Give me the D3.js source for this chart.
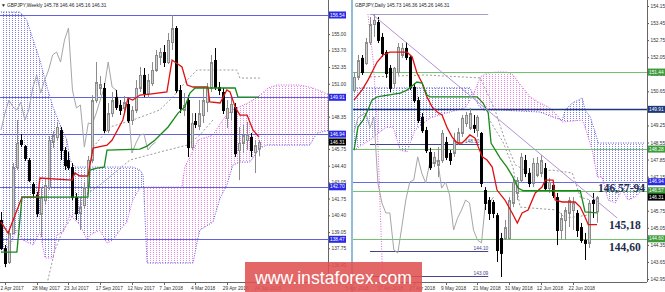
<!DOCTYPE html>
<html>
<head>
<meta charset="utf-8">
<script src="https://d3js.org/d3.v7.min.js"></script>
<style>
  body { margin: 0; background: #fff; }
  svg { display: block; font-family: "Liberation Sans", Arial, sans-serif; }
</style>
</head>
<body>
<svg id="chart" width="665" height="292"></svg>
<script>
// ---- weekly GBPJPY (left) : [open, high, low, close]
const weeklyBars = [
  [140.02,140.67,137.60,137.76],[137.76,138.01,136.23,136.56],[136.64,139.38,136.48,138.97],
  [138.97,144.61,138.89,144.29],[144.29,148.08,144.05,146.23],[146.47,146.95,145.90,146.15],
  [145.98,146.06,144.78,145.02],[144.86,145.02,143.08,143.24],[142.92,143.08,141.87,142.20],
  [142.04,142.28,140.26,140.59],[140.51,142.68,138.65,141.87],[141.63,143.41,141.23,142.84],
  [142.68,146.79,142.44,146.47],[146.31,147.19,145.82,146.87],[146.71,147.92,146.39,147.52],
  [147.27,147.52,144.86,145.66],[145.66,145.90,144.05,144.45],[144.86,145.50,144.05,144.29],
  [144.29,144.61,141.63,141.87],[141.87,142.20,140.02,140.59],[140.59,141.87,139.21,141.07],
  [141.23,143.00,140.99,142.68],[142.68,145.18,142.44,144.86],[144.86,150.09,144.61,149.69],
  [149.69,152.75,149.45,151.14],[150.66,151.62,150.09,150.98],[150.66,151.06,147.03,147.27],
  [147.27,149.45,147.03,148.64],[148.64,150.34,148.32,149.69],[149.93,150.50,148.89,149.13],
  [149.29,149.69,148.48,148.89],[149.05,150.01,148.72,149.53],[149.37,149.85,147.84,148.08],
  [148.08,149.21,147.68,148.89],[148.89,151.30,148.64,150.66],[150.66,152.35,150.34,151.71],
  [151.71,152.27,149.93,150.25],[150.25,151.79,149.85,151.30],[151.06,152.75,150.82,152.11],
  [152.11,153.72,151.95,153.32],[153.16,153.88,152.51,153.56],[153.56,154.12,152.35,152.75],
  [152.75,155.09,152.59,154.53],[154.36,156.54,153.72,155.49],[155.49,155.65,150.25,150.50],
  [150.50,150.90,148.64,149.05],[148.89,150.25,148.40,149.29],[149.69,150.09,145.10,145.90],
  [145.90,148.64,145.66,147.84],[148.00,148.64,147.43,147.76],[147.60,149.69,147.27,148.64],
  [148.48,150.74,147.84,149.69],[149.53,151.06,148.72,150.66],[150.66,153.32,150.34,152.75],
  [152.91,153.88,150.50,150.74],[150.74,151.14,150.09,150.50],[150.34,150.66,148.56,148.89],
  [148.24,149.69,147.43,149.05],[148.72,149.85,148.08,149.37],[149.13,149.45,145.10,145.42],
  [145.66,147.52,143.24,146.23],[146.23,147.68,145.42,146.87],[146.47,147.92,145.66,146.95],
  [146.71,147.03,145.10,145.66],[145.50,146.47,143.81,146.06],[145.78,146.46,145.16,146.31]
];
// Ichimoku lines: [bar index, price]
const weeklyTenkan = [[0,139.86],[1.8,138.97],[5.3,141.87],[9.3,141.87],[9.8,143.41],[17.9,143.24],[18.6,143.81],
  [19.9,143.57],[21.9,143.57],[23.2,145.82],[26.7,146.06],[28,146.47],[30.7,148.08],[32,149.85],[33.2,149.69],
  [35,150.09],[37.5,150.17],[41.8,150.34],[43.1,152.91],[45.6,152.35],[46.9,150.90],[48.4,150.74],[52.1,150.74],
  [52.6,149.53],[55.2,149.45],[56.9,150.50],[57.7,150.34],[59,149.13],[60.2,148.48],[62,148.48],[63.5,147.27],[65,146.71]];
const weeklyKijun = [[0,137.44],[4,137.44],[5.3,141.87],[21.9,141.87],[22.4,144.05],[24.2,144.21],[26,144.29],
  [26.7,145.66],[35,145.74],[36.8,145.98],[38.8,146.47],[42.1,147.52],[44.6,148.64],[46.3,149.13],[47.6,150.25],
  [48.9,150.66],[59,150.66],[59.7,149.93],[65,149.93]];
const weeklySpanA = [[0,137.44],[2.3,138.01],[4,139.21],[5.5,138.41],[8.1,138.01],[9.8,139.05],[11.1,136.96],
  [13.1,136.96],[14.1,138.81],[15.6,139.05],[17.4,140.42],[19.9,139.62],[21.7,138.41],[22.4,138.81],[24.9,139.21],
  [26.7,138.17],[28.2,138.41],[30,139.21],[31.7,139.86],[33.2,141.63],[35,142.60],[36.3,142.68],[45.6,142.68],
  [46.3,144.29],[48.1,145.42],[49.6,146.47],[53.4,146.87],[54.7,147.52],[56.4,148.32],[58.2,148.89],[62.2,149.45],
  [64.7,149.93],[67.3,150.66],[69.5,150.90],[75.3,150.90],[78.6,150.66],[82.9,150.09]];
const weeklySpanB = [[0,156.78],[4.8,156.78],[6.5,156.14],[8.1,154.53],[9.8,152.91],[11.6,150.74],[13.1,149.13],
  [14.9,147.68],[16.6,146.47],[17.4,144.86],[18.6,144.29],[33.2,144.29],[35,144.05],[35.8,143.65],[36.8,136.56],
  [48.4,136.56],[49.4,138.25],[50.1,139.21],[53.4,139.86],[55.2,141.79],[56.9,142.84],[58.4,144.45],[60.2,144.69],
  [62.7,144.69],[65.2,145.82],[67,146.06],[77.8,146.06],[79.6,147.03],[82.9,147.27]];
const weeklyDottedUpper = [[23.2,145.90],[27.5,147.52],[33.2,148.08],[40,148.89],[43.3,149.93],[46.9,151.30],
  [49.4,152.11],[59.4,152.11],[60.2,151.46],[65.2,151.46]];
const weeklyDottedLower = [[11.1,134.22],[13.6,137.60],[15.4,139.05],[21.9,142.20],[24.9,142.84],[32.5,144.86],
  [40,145.50],[46.9,146.06],[50.1,146.87],[53.4,148.08]];
const weeklyTicks = [155.00,153.70,152.35,151.00,148.35,145.75,144.40,143.05,141.75,140.40,139.05,137.75,136.40];
const weeklyLevels = [156.54,149.91,146.94,142.70,138.47];
const weeklyDates = [[1,'2 Apr 2017'],[9,'28 May 2017'],[17,'23 Jul 2017'],[25,'17 Sep 2017'],[33,'12 Nov 2017'],
  [41,'7 Jan 2018'],[49,'4 Mar 2018'],[57,'29 Apr 2018'],[65,'24 Jun 2018']];

// ---- daily GBPJPY (right)
const dailyBars = [
  [150.70,151.44,150.58,151.24],[151.24,152.14,151.11,151.93],[152.02,152.14,151.32,151.44],
  [151.81,152.84,151.73,152.67],[152.67,153.70,152.55,153.41],[153.41,153.82,152.88,153.58],
  [153.49,153.70,152.63,152.76],[152.88,153.04,152.06,152.22],[152.26,152.34,151.20,151.40],
  [151.61,151.73,150.62,150.79],[150.99,151.65,150.79,151.61],[151.44,152.63,151.32,152.47],
  [152.14,152.63,152.02,152.43],[152.43,152.67,151.93,152.06],[152.06,152.14,150.70,150.83],
  [150.83,150.99,150.17,150.29],[150.29,150.42,149.35,149.47],[149.60,149.76,148.94,149.06],
  [149.06,149.19,148.12,148.24],[148.16,148.33,147.42,147.54],[147.71,148.16,147.54,147.96],
  [147.63,148.37,147.13,147.83],[147.83,149.06,147.71,148.94],[148.57,148.78,147.83,147.96],
  [148.12,148.24,147.63,147.83],[148.12,148.94,147.96,148.65],[148.57,149.15,148.45,148.98],
  [148.94,149.68,148.78,149.56],[149.35,149.80,149.19,149.68],[149.15,149.97,149.06,149.76],
  [149.27,149.68,148.94,149.15],[149.06,149.68,148.78,149.60],[148.94,148.98,146.72,146.89],
  [146.60,146.72,145.78,146.07],[146.19,146.31,145.37,145.66],[146.11,146.19,145.45,145.66],
  [145.57,145.66,143.65,144.14],[144.63,144.84,143.03,144.02],[144.63,145.37,144.55,145.08],
  [144.63,146.31,144.55,146.19],[146.07,147.09,145.90,146.93],[146.48,147.13,146.19,147.01],
  [147.01,148.12,146.89,147.96],[147.83,148.04,147.13,147.30],[147.30,147.50,146.72,146.89],
  [146.89,147.91,146.72,147.71],[147.22,147.96,147.13,147.71],[147.30,148.04,147.13,147.83],
  [147.50,147.71,146.60,146.68],[146.68,147.09,146.48,146.93],[146.81,146.93,146.27,146.40],
  [146.31,146.48,144.34,144.96],[144.96,145.66,144.55,145.45],[145.37,145.90,144.55,145.78],
  [145.66,146.31,145.08,146.19],[145.78,146.31,144.96,146.07],[145.66,145.78,144.67,144.96],
  [145.08,145.25,144.43,144.55],[144.55,144.84,143.73,144.43],[144.43,146.19,144.22,146.07],
  [146.19,146.48,145.45,146.07],[145.73,146.36,145.26,146.31]
];
const dailyTenkan = [[0,150.29],[2,150.70],[3.5,151.11],[5.8,151.85],[7.3,152.14],[9,152.26],[13.3,152.26],
  [14.6,152.06],[15.8,151.40],[17.1,150.99],[18.3,150.42],[19.6,150.01],[20.9,149.80],[22.1,149.68],[23.4,149.15],
  [24.6,148.78],[25.9,148.53],[27.1,148.53],[27.9,148.65],[29.1,148.86],[30.4,148.73],[31.2,148.37],[32.2,147.96],
  [33.4,147.83],[34.7,147.54],[35.9,146.60],[37.9,146.19],[39.7,145.66],[41,145.25],[42.2,145.66],[43.7,145.78],
  [45.5,146.48],[47.2,146.72],[48,147.01],[50,147.01],[50.5,146.19],[52.3,146.11],[55.5,146.11],[56.8,145.90],
  [58,145.49],[58.8,145.18],[61,145.18]];
const dailyKijun = [[0,148.24],[1,149.19],[2.3,149.47],[3.5,149.88],[4.5,150.29],[5.8,150.42],[11.6,150.58],
  [13.3,150.70],[15.8,151.03],[17.1,150.99],[18.3,150.50],[19.1,150.42],[30.9,150.42],[32.4,150.17],[33.7,149.76],
  [34.4,148.53],[36.7,147.91],[38.4,147.54],[39.9,147.13],[41.2,146.68],[42.5,146.57],[56.8,146.57],[58,145.70],[61,145.66]];
const dailySpanA = [[0,148.24],[4,148.65],[7.8,149.15],[9.8,149.19],[11.6,148.24],[13.3,148.16],[15.3,149.06],
  [19.1,149.56],[24.1,149.80],[27.9,149.97],[29.9,150.50],[31.7,151.24],[33.4,151.40],[35.9,151.44],[38.4,151.44],
  [39.9,151.32],[42.2,150.83],[44.2,150.42],[46.7,150.17],[48.7,150.01],[50.5,149.76],[52.3,149.39],[57.3,149.47],
  [58,149.19],[59.8,148.24],[61.1,147.13],[62.3,147.13],[63.8,146.19],[65.6,146.07],[67.3,146.60],[68.8,146.19],
  [70.6,146.31],[73.1,146.72]];
const dailySpanB = [[0,150.79],[29.1,150.79],[31.2,150.09],[32.4,149.88],[36.7,149.88],[46.7,149.80],[50.5,149.56],
  [52.3,149.47],[53,149.88],[54.8,150.17],[56.3,150.29],[57.3,150.38],[58,149.88],[59.3,149.60],[60.6,148.94],
  [61.3,148.53],[73.1,148.53]];
const dailyDottedA = [[33.7,149.56],[37.4,148.57],[39.9,147.54],[41.7,145.90],[51,145.78],[53,145.45],[59.3,145.58]];
const dailyDottedB = [[4,151.24],[17.8,151.32],[31.7,151.20],[35.4,149.88],[37.9,148.65],[40.5,147.63],[44.2,147.30],
  [49.7,147.42],[54.8,147.30],[56.8,146.31],[59.3,146.19]];
const dailyDottedPink = [[3.5,153.82],[4.8,151.93],[5.8,149.47],[6.5,146.19],[7.3,142.50]];
const dailyTrend = [[4.5,153.82],[66.1,145.45]];
const dailySegments = [[4,33.7,153.82,''],[4,31.5,148.50,'148.50'],[4,33.7,144.10,'144.10'],[4,33.7,143.09,'143.09']];
const dailyTicks = [154.15,153.45,152.75,152.05,151.35,150.65,149.95,149.25,148.55,147.85,147.15,146.45,145.75,145.05,144.35,143.65,142.95];
const dailyGreenLevels = [151.44,148.28,146.57,144.60];
const dailyNavyLevels = [149.91];
const dailyBlueLevels = [146.94];
const dailyDates = [[-1,'5 Apr 2018'],[7,'17 Apr 2018'],[15,'27 Apr 2018'],[23,'9 May 2018'],[31,'21 May 2018'],
  [39,'31 May 2018'],[47,'12 Jun 2018'],[55,'22 Jun 2018']];
const dailyNotes = [['146,57-94',146.57],['145,18',145.18],['144,60',144.60]];
const lastPrice = 146.31;

// ---- layout
const AXIS_Y = 282;
const LEFT = { x0: 0, x1: 328 };
const RIGHT = { x0: 353, x1: 647 };
const FS = 4.8;

const svg = d3.select('#chart');
svg.append('rect').attr('width', 665).attr('height', 292).attr('fill', '#fff');
const defs = svg.append('defs');

function dotPattern(id, color) {
  const p = defs.append('pattern').attr('id', id)
    .attr('patternUnits', 'userSpaceOnUse').attr('width', 3).attr('height', 2);
  p.append('rect').attr('width', 1).attr('height', 1).attr('fill', color);
}
dotPattern('dotBlue', '#8080ec');
dotPattern('dotPink', '#e888e8');

function clipRect(id, x0, x1) {
  defs.append('clipPath').attr('id', id).append('rect')
    .attr('x', x0).attr('y', 0).attr('width', x1 - x0).attr('height', AXIS_Y);
}
clipRect('clipL', LEFT.x0, LEFT.x1);
clipRect('clipR', RIGHT.x0, RIGHT.x1);

// scales
const xW = d3.scaleLinear().domain([0, 65]).range([1, 259]);
const yW = d3.scaleLinear().domain([136.40, 156.54]).range([265, 15]);
const xD = d3.scaleLinear().domain([0, 61]).range([354, 597]);
const yD = d3.scaleLinear().domain([142.95, 154.15]).range([279, 6]);

function drawPanel(cfg) {
  const { x, y, clip, bars, tenkan, kijun, spanA, spanB, tag } = cfg;
  const g = svg.append('g').attr('clip-path', `url(#${clip})`);

  // kumo: blue where B above A, pink where A above B
  const top = -20, bot = 320;
  const below = (pts) => d3.area().x(d => x(d[0])).y0(d => y(d[1])).y1(bot)(pts);
  const above = (pts) => d3.area().x(d => x(d[0])).y0(top).y1(d => y(d[1]))(pts);
  defs.append('clipPath').attr('id', tag + 'AboveA').append('path').attr('d', above(spanA));
  defs.append('clipPath').attr('id', tag + 'AboveB').append('path').attr('d', above(spanB));
  g.append('path').attr('d', below(spanB)).attr('fill', 'url(#dotBlue)')
    .attr('clip-path', `url(#${tag}AboveA)`);
  g.append('path').attr('d', below(spanA)).attr('fill', 'url(#dotPink)')
    .attr('clip-path', `url(#${tag}AboveB)`);

  const line = d3.line().x(d => x(d[0])).y(d => y(d[1]));
  g.append('path').attr('d', line(spanB)).attr('fill', 'none')
    .attr('stroke', '#5050dc').attr('stroke-width', 1).attr('stroke-dasharray', '1,1.5');
  g.append('path').attr('d', line(spanA)).attr('fill', 'none')
    .attr('stroke', '#dc50dc').attr('stroke-width', 1).attr('stroke-dasharray', '1,1.5');

  cfg.extra(g, line);

  // chikou span: the closes drawn 26 bars back
  const chikou = bars.slice(26).map((b, i) => [i, b[3]]);
  g.append('path').attr('d', line(chikou)).attr('fill', 'none')
    .attr('stroke', '#a6a6a6').attr('stroke-width', 1);

  // candles
  const cx = (i) => Math.round(x(i));
  const c = g.append('g');
  c.selectAll('line').data(bars).join('line')
    .attr('x1', (d, i) => cx(i) + 0.5).attr('x2', (d, i) => cx(i) + 0.5)
    .attr('y1', d => y(d[1])).attr('y2', d => y(d[2]))
    .attr('stroke', d => d[3] >= d[0] ? '#8c8c8c' : '#000').attr('stroke-width', 1);
  c.selectAll('rect').data(bars).join('rect')
    .attr('x', (d, i) => cx(i) - 0.5).attr('width', 2)
    .attr('y', d => y(Math.max(d[0], d[3])) + 0.5)
    .attr('height', d => Math.max(1, Math.abs(y(d[0]) - y(d[3]))))
    .attr('fill', d => d[3] >= d[0] ? '#cfcfcf' : '#000')
    .attr('stroke', d => d[3] >= d[0] ? '#8a8a8a' : '#000').attr('stroke-width', 1);

  g.append('path').attr('d', line(tenkan)).attr('fill', 'none')
    .attr('stroke', '#e01010').attr('stroke-width', 1.3);
  g.append('path').attr('d', line(kijun)).attr('fill', 'none')
    .attr('stroke', '#188a18').attr('stroke-width', 1.3);
  return g;
}

function hLevels(g, values, y, x0, x1, color, w) {
  g.selectAll(null).data(values).join('line')
    .attr('x1', x0).attr('x2', x1)
    .attr('y1', d => Math.round(y(d)) + 0.5).attr('y2', d => Math.round(y(d)) + 0.5)
    .attr('stroke', color).attr('stroke-width', w);
}

// ---- left: weekly
drawPanel({
  x: xW, y: yW, clip: 'clipL', bars: weeklyBars, tenkan: weeklyTenkan, kijun: weeklyKijun,
  spanA: weeklySpanA, spanB: weeklySpanB, tag: 'w',
  extra: (g, line) => {
    [weeklyDottedUpper, weeklyDottedLower].forEach(pts => g.append('path').attr('d', line(pts))
      .attr('fill', 'none').attr('stroke', '#9a9a9a').attr('stroke-width', 1).attr('stroke-dasharray', '2,2'));
    hLevels(g, weeklyLevels, yW, LEFT.x0, LEFT.x1, '#6161dc', 1);
  }
});

// ---- right: daily
const gR = drawPanel({
  x: xD, y: yD, clip: 'clipR', bars: dailyBars, tenkan: dailyTenkan, kijun: dailyKijun,
  spanA: dailySpanA, spanB: dailySpanB, tag: 'd',
  extra: (g, line) => {
    [dailyDottedA, dailyDottedB].forEach(pts => g.append('path').attr('d', line(pts))
      .attr('fill', 'none').attr('stroke', '#9a9a9a').attr('stroke-width', 1).attr('stroke-dasharray', '2,2'));
    g.append('path').attr('d', line(dailyDottedPink)).attr('fill', 'none')
      .attr('stroke', '#e060e0').attr('stroke-width', 1).attr('stroke-dasharray', '1,1.5');
    hLevels(g, dailyGreenLevels, yD, RIGHT.x0, RIGHT.x1, '#72c272', 1);
    hLevels(g, dailyBlueLevels, yD, RIGHT.x0, RIGHT.x1, '#6a6ae0', 1);
    hLevels(g, dailyNavyLevels, yD, RIGHT.x0, RIGHT.x1, '#1d3878', 1.5);
    dailySegments.forEach(([a, b, v, label], k) => {
      const yy = Math.round(yD(v)) + 0.5;
      g.append('line').attr('x1', xD(a)).attr('x2', xD(b)).attr('y1', yy).attr('y2', yy)
        .attr('stroke', k === 0 ? '#a89cc8' : '#45458a').attr('stroke-width', 1);
      if (label) g.append('text').attr('x', xD(b)).attr('y', yy - 1.5).attr('text-anchor', 'end')
        .attr('font-size', FS).attr('fill', '#45458a').text(label);
    });
  }
});
gR.append('path').attr('d', d3.line().x(d => xD(d[0])).y(d => yD(d[1]))(dailyTrend))
  .attr('fill', 'none').attr('stroke', '#b791d6').attr('stroke-width', 1);

gR.selectAll('text.note').data(dailyNotes).join('text').attr('class', 'note')
  .attr('x', (d, i) => i === 0 ? 598 : 609)
  .attr('y', d => yD(d[1]) + (d[0] === '145,18' ? 4 : (d[0] === '144,60' ? 12 : 1)))
  .attr('font-family', '"Liberation Serif", "Times New Roman", serif')
  .attr('font-weight', 'bold').attr('font-size', 11.5).attr('fill', '#1e2c4c')
  .text(d => d[0]);

// ---- axes
function priceAxis(xPos, y, ticks) {
  const ax = svg.append('g').attr('transform', `translate(${xPos},0)`)
    .call(d3.axisRight(y).tickValues(ticks).tickSize(2).tickPadding(1.5).tickFormat(d3.format('.2f')));
  ax.select('.domain').remove();
  ax.selectAll('line').attr('stroke', '#555');
  ax.selectAll('text').attr('font-size', FS).attr('fill', '#333').attr('font-family', '"Liberation Sans", Arial, sans-serif');
  svg.append('line').attr('x1', xPos + 0.5).attr('x2', xPos + 0.5).attr('y1', 0).attr('y2', AXIS_Y)
    .attr('stroke', '#666').attr('stroke-width', 1);
}
priceAxis(LEFT.x1, yW, weeklyTicks);
priceAxis(RIGHT.x1, yD, dailyTicks);

function levelBox(xPos, yy, text, bg, fg) {
  const g = svg.append('g');
  g.append('rect').attr('x', xPos).attr('y', yy - 3.5).attr('width', 17).attr('height', 7).attr('fill', bg);
  g.append('text').attr('x', xPos + 1).attr('y', yy + 1.7).attr('font-size', FS).attr('fill', fg).text(text);
}
weeklyLevels.forEach(v => levelBox(LEFT.x1 + 1, yW(v), v.toFixed(2), '#2a2ae6', '#fff'));
levelBox(LEFT.x1 + 1, yW(lastPrice), lastPrice.toFixed(2), '#000', '#fff');
dailyGreenLevels.forEach(v => levelBox(RIGHT.x1 + 1, yD(v), v.toFixed(2), '#3c9c3c', '#fff'));
dailyNavyLevels.forEach(v => levelBox(RIGHT.x1 + 1, yD(v), v.toFixed(2), '#1d3878', '#fff'));
dailyBlueLevels.forEach(v => levelBox(RIGHT.x1 + 1, yD(v), v.toFixed(2), '#2a2ae6', '#fff'));
levelBox(RIGHT.x1 + 1, yD(lastPrice), lastPrice.toFixed(2), '#000', '#fff');

function dateAxis(x, dates, x0, x1, clipLeft) {
  svg.append('line').attr('x1', x0).attr('x2', x1).attr('y1', AXIS_Y + 0.5).attr('y2', AXIS_Y + 0.5)
    .attr('stroke', '#666');
  const g = svg.append('g');
  g.selectAll('line').data(dates).join('line')
    .attr('x1', d => Math.round(x(d[0])) + 0.5).attr('x2', d => Math.round(x(d[0])) + 0.5)
    .attr('y1', AXIS_Y).attr('y2', AXIS_Y + 3).attr('stroke', '#666');
  g.selectAll('text').data(dates).join('text')
    .attr('x', d => Math.max(clipLeft, x(d[0]) - 4.5)).attr('y', 289.5)
    .attr('font-size', FS).attr('fill', '#333').text(d => d[1]);
}
dateAxis(xW, weeklyDates, LEFT.x0, LEFT.x1, 0);
dateAxis(xD, dailyDates, 338, RIGHT.x1, 338);

// separator between the two windows
svg.append('line').attr('x1', 352).attr('x2', 352).attr('y1', 0).attr('y2', 292)
  .attr('stroke', '#6aa9c9').attr('stroke-width', 1.5);

// titles
svg.append('text').attr('x', 1).attr('y', 7).attr('font-size', FS).attr('fill', '#222')
  .text('\u25BC GBPJPY,Weekly  145.78 146.46 145.16 146.31');
svg.append('text').attr('x', 355).attr('y', 7).attr('font-size', FS).attr('fill', '#222')
  .text('GBPJPY,Daily  145.73 146.36 145.26 146.31');

// watermark
svg.append('rect').attr('x', 245).attr('y', 262).attr('width', 177).attr('height', 30)
  .attr('fill', '#e05252').attr('opacity', 0.88);
svg.append('text').attr('x', 255).attr('y', 284).attr('font-size', 18.5).attr('fill', '#fff')
  .attr('textLength', 157).attr('lengthAdjust', 'spacingAndGlyphs')
  .text('www.instaforex.com');
</script>
</body>
</html>
